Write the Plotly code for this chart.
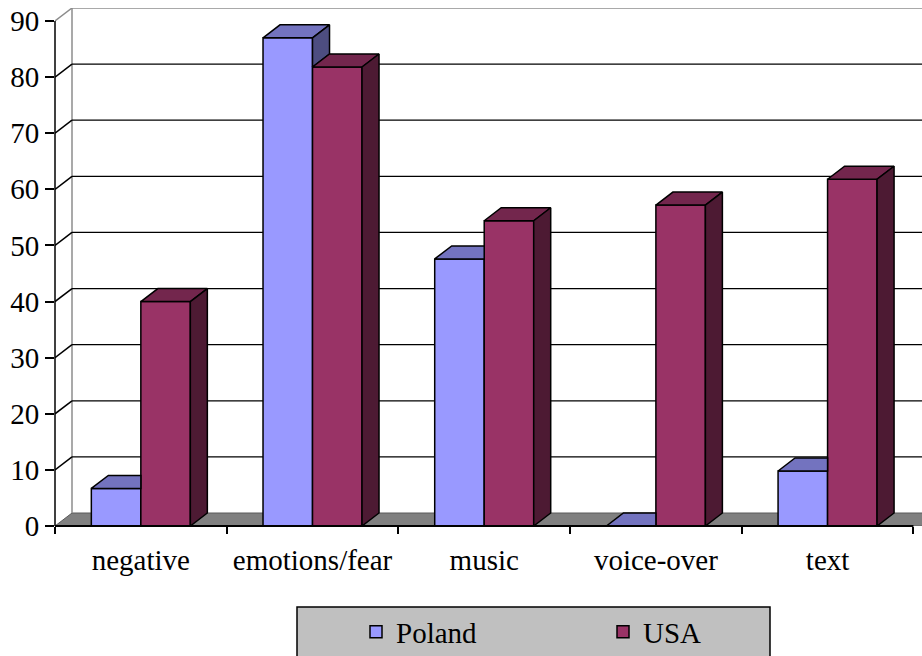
import plotly.graph_objects as go

# ---------------- data ----------------
categories = ["negative", "emotions/fear", "music", "voice-over", "text"]
poland = [6.7, 87.0, 47.6, 0.0, 9.8]
usa = [40.0, 81.8, 54.4, 57.2, 61.8]
y_tick_values = [0, 10, 20, 30, 40, 50, 60, 70, 80, 90]
series_names = ["Poland", "USA"]

# ---------------- styles / geometry ----------------
W, H = 922, 656
ML, MR, MT, MB = 55, 0, 8, 130
PLOT_W = W - ML - MR
PLOT_H = H - MT - MB
X_RANGE = [-0.5, 4.55]
Y_FRONT_MAX = 90
DEPTH_PX_X, DEPTH_PX_Y = 17, 13
BAR_PX = 49.5

px_per_x = PLOT_W / (X_RANGE[1] - X_RANGE[0])
DX = DEPTH_PX_X / px_per_x
DY = DEPTH_PX_Y * Y_FRONT_MAX / (PLOT_H - DEPTH_PX_Y)
Y_RANGE = [0, Y_FRONT_MAX + DY]
BW = BAR_PX / px_per_x

FONT = "Liberation Serif"
FONT_SIZE = 29
POL = dict(front="#9999FF", top="#7373BF", side="#4D4D80")
US = dict(front="#993366", top="#73264D", side="#4D1A33")
EDGE = dict(color="black", width=1.5)

fig = go.Figure()

xs = list(range(len(categories)))
fig.add_trace(go.Bar(x=xs, y=poland, name=series_names[0], offset=-BW, width=BW,
                     marker=dict(color=POL["front"], line=EDGE)))
fig.add_trace(go.Bar(x=xs, y=usa, name=series_names[1], offset=0, width=BW,
                     marker=dict(color=US["front"], line=EDGE)))


def poly_trace(polys, color):
    px, py = [], []
    for poly in polys:
        for (a, b) in poly:
            px.append(a)
            py.append(b)
        px.append(poly[0][0])
        py.append(poly[0][1])
        px.append(None)
        py.append(None)
    return go.Scatter(x=px, y=py, mode="lines", fill="toself", fillcolor=color,
                      line=dict(color="black", width=1.5), showlegend=False,
                      hoverinfo="skip")


pol_tops, pol_sides, us_tops, us_sides = [], [], [], []
for i, (p, u) in enumerate(zip(poland, usa)):
    xl, xr = i - BW, i
    A, B, C, D = (xl, p), (xr, p), (xr + DX, p + DY), (xl + DX, p + DY)
    if u <= p:
        pol_tops.append([A, B, C, D])
        pol_sides.append([(xr, u), (xr, p), (xr + DX, p + DY), (xr + DX, u + DY)])
    elif u >= p + DY:
        pol_tops.append([A, B, (xr, p + DY), D])
    else:
        pol_tops.append([A, B, (xr, u), (xr + DX * (u - p) / DY, u), C, D])
    ul, ur = i, i + BW
    us_tops.append([(ul, u), (ur, u), (ur + DX, u + DY), (ul + DX, u + DY)])
    us_sides.append([(ur, 0), (ur, u), (ur + DX, u + DY), (ur + DX, DY)])

fig.add_trace(poly_trace(pol_tops, POL["top"]))
fig.add_trace(poly_trace(pol_sides, POL["side"]))
fig.add_trace(poly_trace(us_tops, US["top"]))
fig.add_trace(poly_trace(us_sides, US["side"]))

# ---------------- walls, floor, gridlines ----------------
x0, x1 = -0.5, len(categories) - 0.5
far = x1 + 1
shapes = []
# floor
shapes.append(dict(type="path", xref="x", yref="y", layer="below",
                   path=f"M{x0},0 L{x0+DX},{DY} L{far},{DY} L{far},0 Z",
                   fillcolor="#808080", line=dict(color="#5a5a5a", width=1)))
# back wall left border
shapes.append(dict(type="line", xref="x", yref="y", layer="below",
                   x0=x0 + DX, y0=DY, x1=x0 + DX, y1=Y_FRONT_MAX + DY,
                   line=dict(color="#8c8c8c", width=1.5)))
# gridlines on the back wall (+ top border)
for v in y_tick_values[1:]:
    col = "#8c8c8c" if v == Y_FRONT_MAX else "black"
    shapes.append(dict(type="line", xref="x", yref="y", layer="below",
                       x0=x0, y0=v, x1=x0 + DX, y1=v + DY, line=dict(color=col, width=1.5)))
    shapes.append(dict(type="line", xref="x", yref="y", layer="below",
                       x0=x0 + DX, y0=v + DY, x1=far, y1=v + DY, line=dict(color=col, width=1.3)))
# front axis lines
shapes.append(dict(type="line", xref="paper", yref="y", layer="above",
                   x0=0, x1=0, y0=0, y1=Y_FRONT_MAX, line=dict(color="black", width=1.5)))
shapes.append(dict(type="line", xref="x", yref="paper", layer="above",
                   x0=x0, x1=x1, y0=0, y1=0, line=dict(color="black", width=2)))


# legend box
def px_to_paper_x(px):
    return (px - ML) / PLOT_W


def px_to_paper_y(py):
    return (H - MB - py) / PLOT_H


shapes.append(dict(type="rect", xref="paper", yref="paper", layer="below",
                   x0=px_to_paper_x(297), x1=px_to_paper_x(770),
                   y0=px_to_paper_y(607), y1=px_to_paper_y(662),
                   fillcolor="#C0C0C0", line=dict(color="black", width=1.5)))

fig.update_layout(
    width=W, height=H,
    margin=dict(l=ML, r=MR, t=MT, b=MB, pad=0),
    paper_bgcolor="white", plot_bgcolor="white",
    barmode="overlay",
    shapes=shapes,
    font=dict(family=FONT, size=FONT_SIZE, color="black"),
    showlegend=True,
    legend=dict(orientation="h", xref="container", yref="container",
                x=(378 - 22) / W, y=1 - 632 / H, xanchor="left", yanchor="middle",
                bgcolor="rgba(0,0,0,0)", borderwidth=0,
                entrywidth=202, entrywidthmode="pixels",
                font=dict(family=FONT, size=FONT_SIZE, color="black")),
    xaxis=dict(range=X_RANGE, tickmode="array", tickvals=xs, ticktext=categories,
               tickfont=dict(family=FONT, size=FONT_SIZE, color="black"),
               showgrid=False, zeroline=False, showline=False, ticks="",
               ticklabelstandoff=14,
               minor=dict(tickmode="array", tickvals=[k - 0.5 for k in range(len(categories) + 1)],
                          ticks="outside", ticklen=7, tickwidth=1.5, tickcolor="black",
                          showgrid=False),
               fixedrange=True),
    yaxis=dict(range=Y_RANGE, tickmode="array", tickvals=y_tick_values,
               tickfont=dict(family=FONT, size=FONT_SIZE, color="black"),
               ticks="outside", ticklen=9, tickwidth=1.5, tickcolor="black",
               showgrid=False, zeroline=False, showline=False, fixedrange=True),
)

fig.write_html("out.html")
